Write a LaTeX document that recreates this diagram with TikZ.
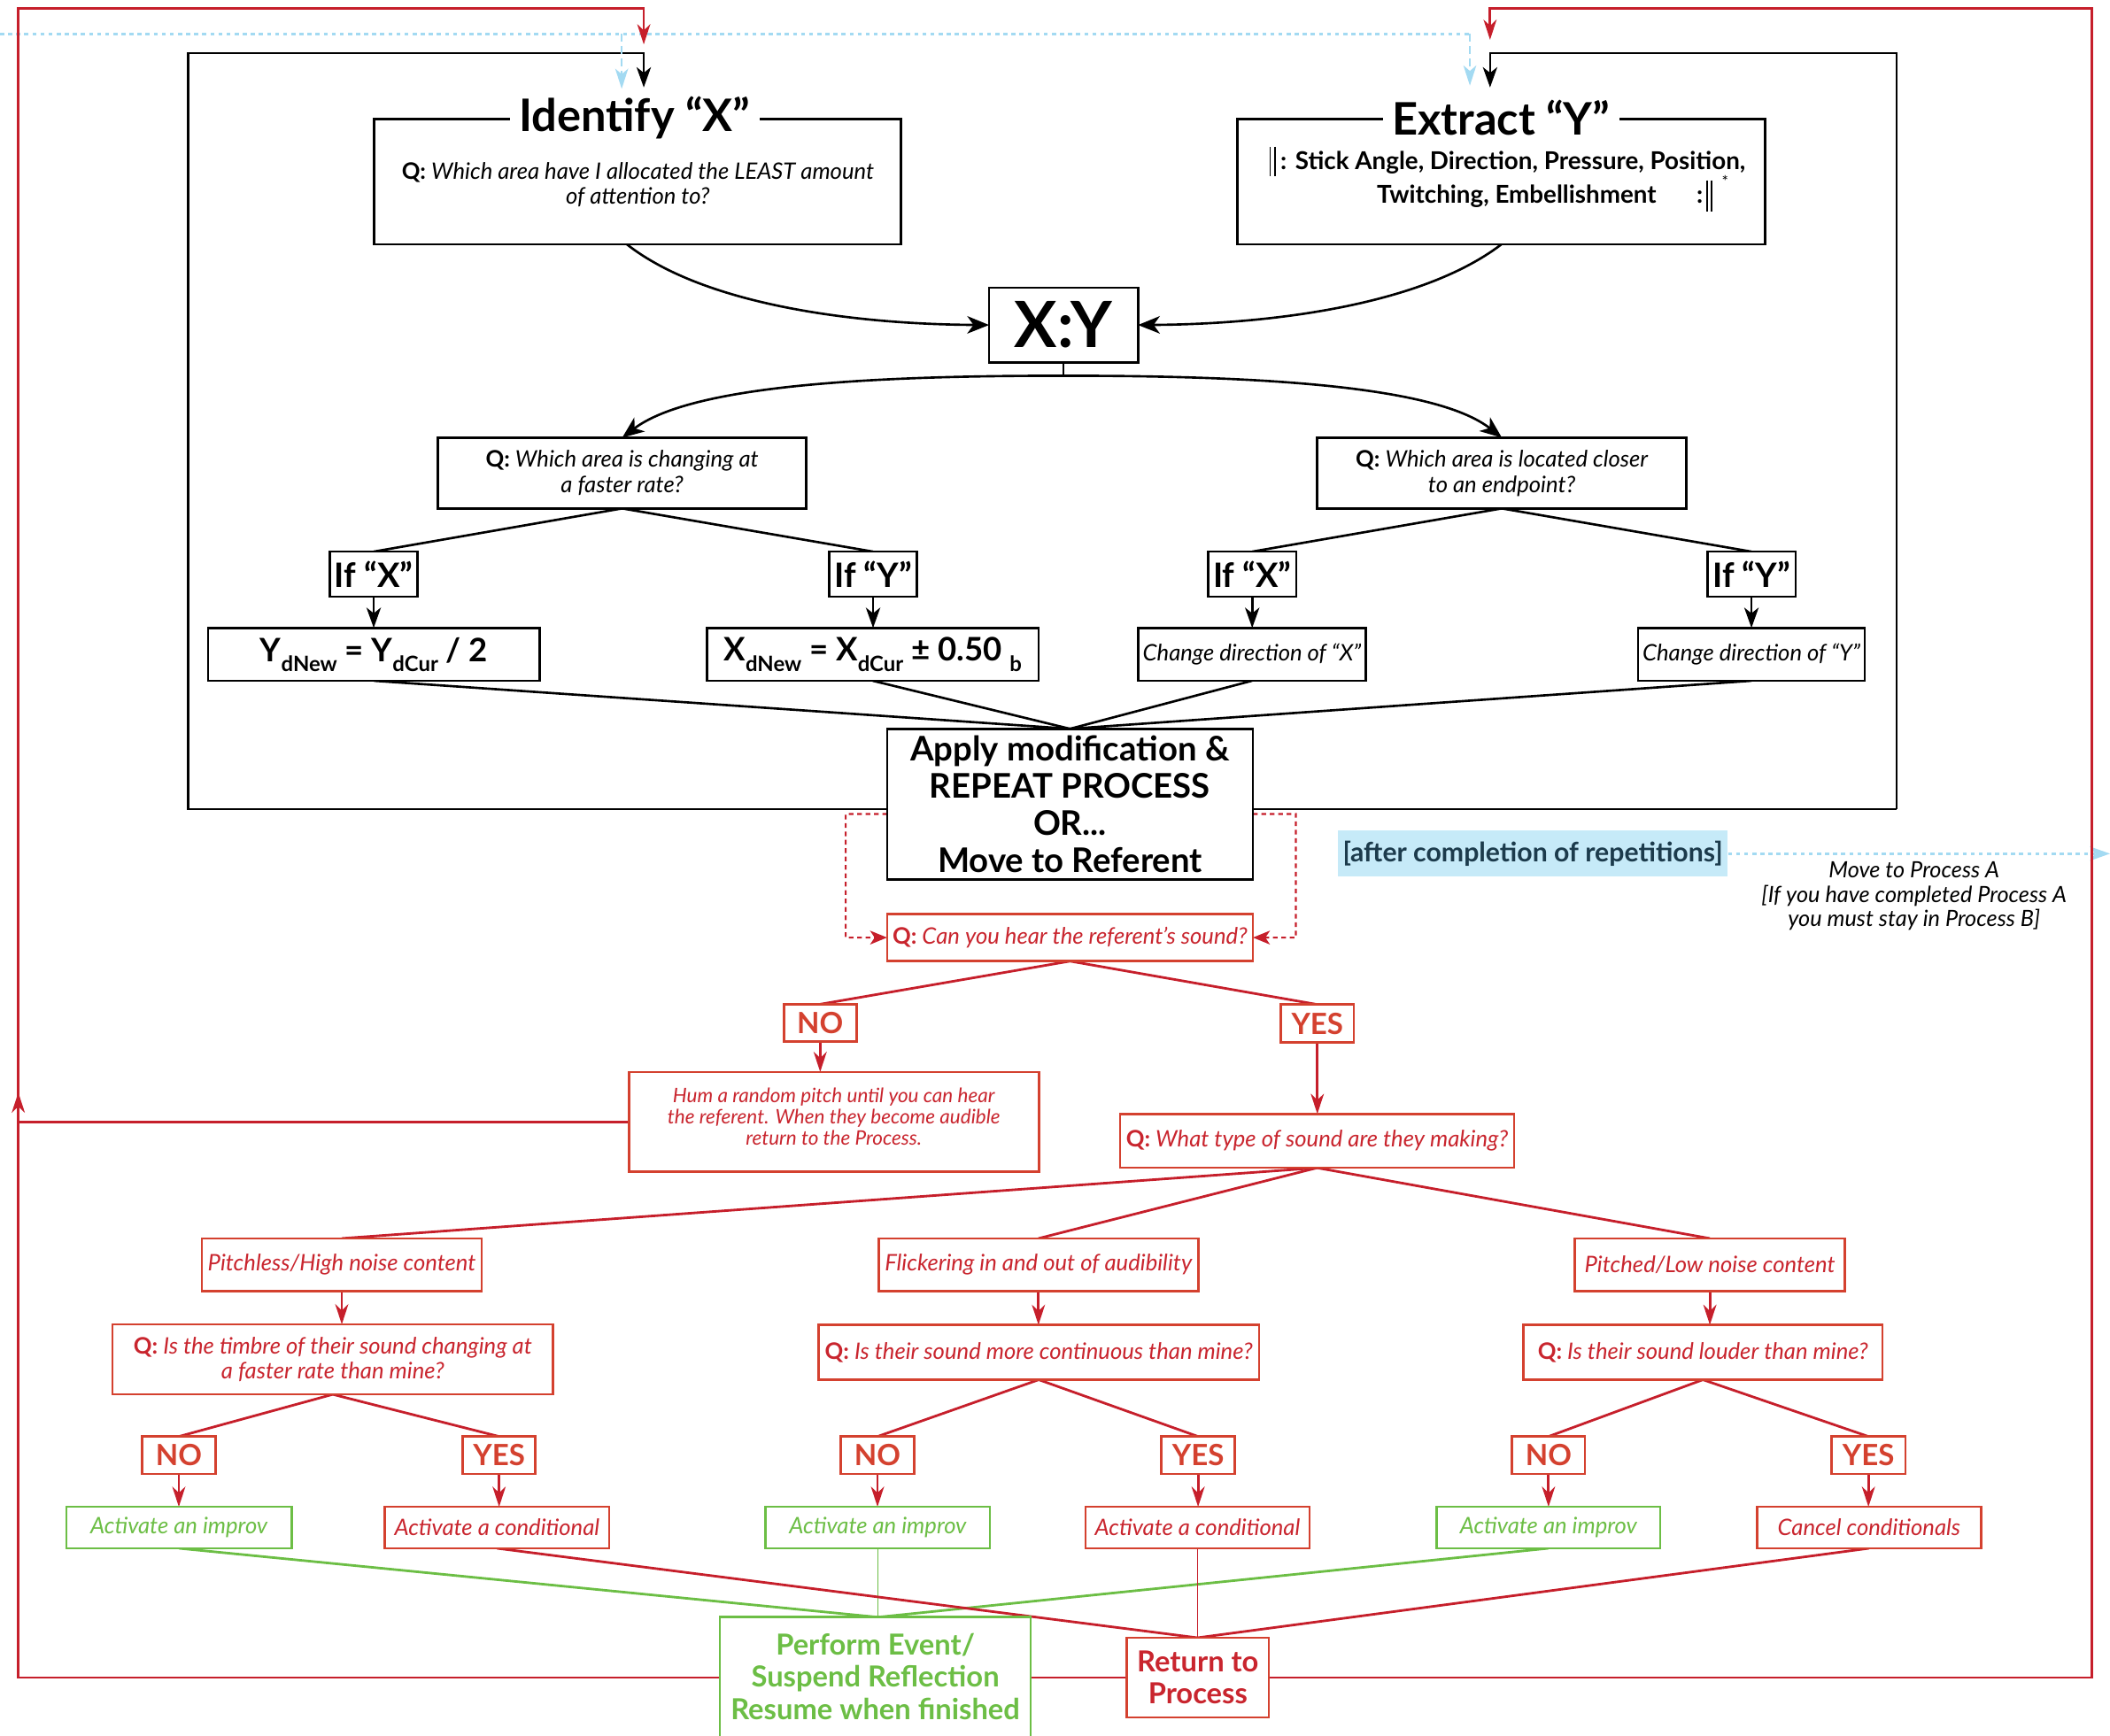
\documentclass[tikz,border=0pt]{standalone}
\usepackage{fontspec}
\setmainfont{Lato}
\usetikzlibrary{arrows.meta,calc}
\definecolor{lnred}{HTML}{C61F2B}
\definecolor{bxred}{HTML}{D4412F}
\definecolor{txred}{HTML}{C9252E}
\definecolor{yesred}{HTML}{D4412F}
\definecolor{grn}{HTML}{6CBE45}
\definecolor{skyb}{HTML}{A3DAF2}
\definecolor{skyfill}{HTML}{C6EAF8}
\definecolor{inkteal}{HTML}{1C3B4C}
\pgfdeclarelayer{bg}
\pgfsetlayers{bg,main}
% box from corner (#2,#3) to corner (#4,#5), style #6, text #7
\newcommand\mkbox[7]{%
  \pgfmathsetmacro\bxcx{(#2+#4)/2}%
  \pgfmathsetmacro\bxcy{(#3+#5)/2}%
  \pgfmathsetmacro\bxw{(#4-#2)*0.015198}%
  \pgfmathsetmacro\bxh{(#5-#3)*0.015198}%
  \node[#6,minimum width=\bxw cm,minimum height=\bxh cm] (#1) at (\bxcx,\bxcy) {#7};}
\newcommand\lowsub[1]{\raisebox{-0.6ex}{\fontsize{6.8}{6.8}\selectfont #1}}
\newcommand\qlead{{\upshape\bfseries Q:}}
\begin{document}
\begin{tikzpicture}[x=0.015198cm,y=-0.015198cm,
  base/.style={inner sep=0pt,outer sep=0pt,align=center,fill=white},
  kbox/.style={base,draw=black,line width=0.75pt},
  rbox/.style={base,draw=bxred,line width=0.75pt,text=txred},
  gbox/.style={base,draw=grn,line width=0.75pt,text=grn},
  titlef/.style={fill=white,inner xsep=3pt,inner ysep=1pt,font=\fontsize{14.4}{16}\selectfont\bfseries},
  ital/.style={align=center,font=\fontsize{7.3}{8.2}\selectfont\itshape},
  iff/.style={font=\fontsize{10.8}{12}\selectfont\bfseries},
  frm/.style={font=\fontsize{10.4}{12}\selectfont\bfseries},
  apf/.style={font=\fontsize{10.9}{11.9}\selectfont\bfseries},
  yn/.style={font=\fontsize{9.4}{10}\selectfont\bfseries,text=yesred},
  humf/.style={align=center,font=\fontsize{6.4}{6.9}\selectfont\itshape},
  gbf/.style={font=\fontsize{9.3}{10.4}\selectfont\bfseries,align=center},
  ebold/.style={font=\fontsize{7.9}{9}\selectfont\bfseries},
  kline/.style={draw=black,line width=0.75pt},
  rline/.style={draw=lnred,line width=0.8pt},
  rthin/.style={draw=lnred,line width=0.5pt},
  gline/.style={draw=grn,line width=0.8pt},
  gthin/.style={draw=grn,line width=0.5pt},
  karr/.style={kline,-{Stealth[length=6.5pt,width=4.6pt,inset=1.8pt]}},
  kbig/.style={kline,-{Stealth[length=7pt,width=5.6pt,inset=2pt]}},
  rarr/.style={rline,-{Stealth[length=6.5pt,width=4.2pt,inset=2pt]}},
  rdash/.style={draw=lnred,line width=0.6pt,dash pattern=on 1.5pt off 1.2pt,-{Stealth[length=5.5pt,width=4.5pt,inset=1.5pt,line width=0pt]}},
  bdot/.style={draw=skyb,line width=0.75pt,dash pattern=on 1.3pt off 1.3pt},
  bdash/.style={draw=skyb,line width=0.6pt,dash pattern=on 2.5pt off 1.5pt,-{Stealth[length=6.5pt,width=4.2pt,inset=1.8pt,line width=0pt]}},
]
\clip (0,0) rectangle (1568,1290);

% ---------- upper (black) process ----------
\mkbox{ident}{278}{88.4}{669.7}{181.6}{kbox}{}
\node[titlef] (ititle) at (471.5,87.5) {Identify “X”};
\node[ital,font=\fontsize{7.3}{8}\selectfont\itshape] (iq) at (474,137) {\qlead{} Which area have I allocated the LEAST amount\\of attention to?};

\mkbox{extr}{919.7}{88.4}{1311.8}{181.6}{kbox}{}
\node[titlef] (etitle) at (1115.5,87.5) {Extract “Y”};
\draw[line width=0.45pt] (944,109) -- (944,131) (947.5,109) -- (947.5,131);
\node[ebold,anchor=base west,inner sep=0pt] (eline) at (951,126) {:\hspace{0.35em}Stick Angle, Direction, Pressure, Position,};
\node[ebold,anchor=base,inner sep=0pt] (elinb) at (1127,151.3) {Twitching, Embellishment};
\node[ebold,anchor=base east,inner sep=0pt] (ecol) at (1266,151.3) {:};
\draw[line width=0.45pt] (1268.5,134) -- (1268.5,157) (1272,134) -- (1272,157);
\node[font=\fontsize{5}{5}\selectfont,inner sep=0pt] (estar) at (1282,135) {*};

\mkbox{xy}{735}{213.8}{845.7}{269.3}{kbox,font=\fontsize{20.5}{22}\selectfont\bfseries}{X:Y}

\mkbox{qa}{325.5}{325.3}{599.2}{377.9}{kbox,ital}{\qlead{} Which area is changing at\\a faster rate?}
\mkbox{qb}{978.8}{325.3}{1253.3}{377.9}{kbox,ital}{\qlead{} Which area is located closer\\to an endpoint?}

\mkbox{ifa}{245.2}{410}{310.2}{443.5}{kbox,iff}{If “X”}
\mkbox{ifb}{616.3}{410}{681.3}{443.5}{kbox,iff}{If “Y”}
\mkbox{ifc}{897.8}{410}{963.3}{443.5}{kbox,iff}{If “X”}
\mkbox{ifd}{1268.8}{410}{1334.3}{443.5}{kbox,iff}{If “Y”}

\mkbox{ra}{154.7}{466.7}{401.2}{506}{kbox,frm}{Y\lowsub{dNew} = Y\lowsub{dCur} / 2}
\mkbox{rb}{525.3}{466.7}{771.9}{506}{kbox,frm}{X\lowsub{dNew} = X\lowsub{dCur} ± 0.50 \lowsub{b}}
\mkbox{rc}{845.8}{466.7}{1014.9}{506}{kbox,ital}{Change direction of “X”}
\mkbox{rd}{1217.2}{466.7}{1385.8}{506}{kbox,ital}{Change direction of “Y”}

\mkbox{apply}{659.2}{541.7}{931.1}{653.6}{kbox,apf}{Apply modification \&\\REPEAT PROCESS\\OR...\\Move to Referent}

\node[fill=skyfill,text=inkteal,inner xsep=1.5pt,minimum height=0.365cm,font=\fontsize{8.6}{9}\selectfont\bfseries] (after) at (1139,634.5) {[after completion of repetitions]};
\node[ital,font=\fontsize{7.2}{7.9}\selectfont\itshape] (movep) at (1422.4,666) {Move to Process A\\{[}If you have completed Process A\\you must stay in Process B{]}};

% ---------- referent (red) process ----------
\mkbox{qc}{659.2}{679.3}{931.1}{714.4}{rbox,ital}{\qlead{} Can you hear the referent’s sound?}
\mkbox{noa}{582.6}{746.4}{636.4}{774.2}{rbox,yn}{NO}
\mkbox{yesa}{951.9}{746.6}{1006}{774.9}{rbox,yn}{YES}
\mkbox{hum}{467.3}{796.8}{772}{871}{rbox}{}
\node[humf,text=txred] (humtxt) at (619.6,830) {Hum a random pitch until you can hear\\the referent. When they become audible\\return to the Process.};
\mkbox{qd}{832.3}{828}{1125.2}{868}{rbox,ital}{\qlead{} What type of sound are they making?}

\mkbox{pa}{150}{920.5}{358}{959.5}{rbox,ital}{Pitchless/High noise content}
\mkbox{pb}{653}{920.5}{890.4}{959.5}{rbox,ital}{Flickering in and out of audibility}
\mkbox{pc}{1170.4}{920.5}{1370.9}{959.5}{rbox,ital}{Pitched/Low noise content}

\mkbox{qe}{83.6}{984.4}{411}{1036.4}{rbox,ital}{\qlead{} Is the timbre of their sound changing at\\a faster rate than mine?}
\mkbox{qf}{608.3}{984.8}{935.6}{1025.5}{rbox,ital}{\qlead{} Is their sound more continuous than mine?}
\mkbox{qg}{1132}{984.8}{1399}{1025.5}{rbox,ital}{\qlead{} Is their sound louder than mine?}

\mkbox{noe}{105.7}{1067.7}{160.1}{1095.5}{rbox,yn}{NO}
\mkbox{yese}{344}{1067.7}{397.8}{1095.5}{rbox,yn}{YES}
\mkbox{nof}{624.9}{1067.7}{679.3}{1095.5}{rbox,yn}{NO}
\mkbox{yesf}{863}{1067.7}{917.7}{1095.5}{rbox,yn}{YES}
\mkbox{nog}{1123.7}{1067.7}{1177.8}{1095.5}{rbox,yn}{NO}
\mkbox{yesg}{1361}{1067.7}{1416}{1095.5}{rbox,yn}{YES}

\mkbox{ae}{49.4}{1120}{216.6}{1150.8}{gbox,ital}{Activate an improv}
\mkbox{be}{286}{1120}{452.7}{1150.8}{rbox,ital}{Activate a conditional}
\mkbox{af}{569}{1120}{735.7}{1150.8}{gbox,ital}{Activate an improv}
\mkbox{bf}{806.6}{1120}{973.2}{1150.8}{rbox,ital}{Activate a conditional}
\mkbox{ag}{1067.7}{1120}{1233.7}{1150.8}{gbox,ital}{Activate an improv}
\mkbox{bg}{1305.6}{1120}{1472.2}{1150.8}{rbox,ital}{Cancel conditionals}

\mkbox{perform}{535}{1202}{766}{1330}{gbox}{}
\node[gbf,text=grn] (ptext) at (650.5,1246) {Perform Event/\\Suspend Reflection\\Resume when finished};
\mkbox{ret}{837.3}{1217.3}{943}{1276.5}{rbox,gbf}{Return to\\Process}

% ---------- connectors ----------
\coordinate (itip) at (478.4,65);
\coordinate (etip) at (1107.3,65);
\coordinate (bitip) at (462,66);
\coordinate (betip) at (1092.3,63.6);
\coordinate (ritip) at (478.4,33);
\coordinate (retip) at (1107.3,29.6);
\coordinate (hmtip) at (13.6,812);
\coordinate (rightedge) at (1568,634.5);
\coordinate (pin) at (af.south |- perform.north);
\coordinate (rin) at (bf.south |- ret.north);

\begin{pgfonlayer}{bg}
% frame of the reflection loop
\draw[karr] (1409.3,601.5) -- (140,601.5) -- (140,39.5) -- (478.4,39.5) -- (itip);
\draw[karr] (1409.3,601.5) -- (1409.3,39.5) -- (1107.3,39.5) -- (etip);
% re-entry from the other process
\draw[bdot] (0,25.2) -- (1092.3,25.2);
\draw[bdash] (462,25.2) -- (bitip);
\draw[bdash] (1092.3,25.2) -- (betip);
\draw[bdot,-{Stealth[length=6.5pt,width=4.6pt,inset=1.8pt,line width=0pt]}] (after.east) -- (rightedge);

\draw[kbig] ($(ident.south)+(-8,0)$) .. controls (525,228) and (640,241) .. (xy.west);
\draw[kbig] (extr.south) .. controls (1055,228) and (940,241) .. (xy.east);
\draw[kline] (xy.south) -- ++(0,10) coordinate (xyfork);
\draw[kbig] (xyfork) .. controls (600,279) and (505,293) .. (qa.north);
\draw[kbig] (xyfork) .. controls (980,279) and (1075,293) .. (qb.north);

\draw[kline] (qa.south) -- (ifa.north);
\draw[kline] (qa.south) -- (ifb.north);
\draw[kline] (qb.south) -- (ifc.north);
\draw[kline] (qb.south) -- (ifd.north);
\draw[karr] (ifa.south) -- (ifa.south |- ra.north);
\draw[karr] (ifb.south) -- (ifb.south |- rb.north);
\draw[karr] (ifc.south) -- (ifc.south |- rc.north);
\draw[karr] (ifd.south) -- (ifd.south |- rd.north);
\draw[kline] (ra.south) -- (apply.north);
\draw[kline] (rb.south) -- (apply.north);
\draw[kline] (rc.south) -- (apply.north);
\draw[kline] (rd.south) -- (apply.north);

% move to the referent
\draw[rdash] ($(apply.south west)+(0,-48.6)$) -- (628.5,605) -- (628.5,696.9) -- (qc.west);
\draw[rdash] ($(apply.south east)+(0,-48.6)$) -- (963,605) -- (963,696.9) -- (qc.east);

\draw[rline] (qc.south) -- (noa.north);
\draw[rline] (qc.south) -- (yesa.north);
\draw[rarr] (noa.south) -- (noa.south |- hum.north);
\draw[rarr] (yesa.south) -- (yesa.south |- qd.north);
\draw[rarr] (hum.west) -| (hmtip);

\draw[rline] (qd.south) -- (pa.north);
\draw[rline] (qd.south) -- (pb.north);
\draw[rline] (qd.south) -- (pc.north);
\draw[rarr] (pa.south) -- (pa.south |- qe.north);
\draw[rarr] (pb.south) -- (pb.south |- qf.north);
\draw[rarr] (pc.south) -- (pc.south |- qg.north);

\draw[rline] (qe.south) -- (noe.north);
\draw[rline] (qe.south) -- (yese.north);
\draw[rline] (qf.south) -- (nof.north);
\draw[rline] (qf.south) -- (yesf.north);
\draw[rline] (qg.south) -- (nog.north);
\draw[rline] (qg.south) -- (yesg.north);
\draw[rarr] (noe.south) -- (noe.south |- ae.north);
\draw[rarr] (yese.south) -- (yese.south |- be.north);
\draw[rarr] (nof.south) -- (nof.south |- af.north);
\draw[rarr] (yesf.south) -- (yesf.south |- bf.north);
\draw[rarr] (nog.south) -- (nog.south |- ag.north);
\draw[rarr] (yesg.south) -- (yesg.south |- bg.north);

\draw[gline] (ae.south) -- (pin);
\draw[gthin] (af.south) -- (pin);
\draw[gline] (ag.south) -- (pin);
\draw[rline] (be.south) -- (rin);
\draw[rthin] (bf.south) -- (rin);
\draw[rline] (bg.south) -- (rin);

% return loops
\draw[rarr] (ret.west) -- (13.6,1246.9) -- (13.6,6.1) -- (478.4,6.1) -- (ritip);
\draw[rarr] (ret.east) -- (1554.6,1246.9) -- (1554.6,6.1) -- (1107.3,6.1) -- (retip);
\end{pgfonlayer}
\end{tikzpicture}
\end{document}
